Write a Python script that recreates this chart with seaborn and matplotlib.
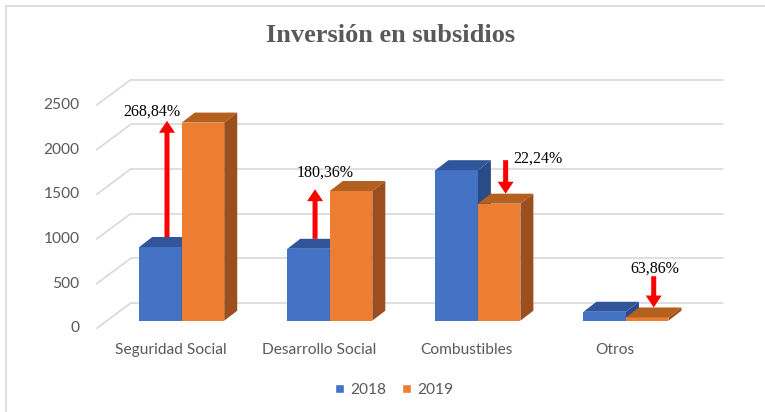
import matplotlib
matplotlib.use("Agg")
import numpy as np
import pandas as pd
import matplotlib.pyplot as plt
from matplotlib.patches import Polygon, Rectangle, FancyArrowPatch, ArrowStyle, Patch
import seaborn as sns

sns.set_style("white")
plt.rcParams['font.family'] = ['Lato', 'DejaVu Sans']

# datos
categorias = ["Seguridad Social", "Desarrollo Social", "Combustibles", "Otros"]
anios = ["2018", "2019"]
valores_2018 = [825, 805, 1685, 100]
valores_2019 = [2218, 1452, 1310, 36]
variaciones = ["268,84%", "180,36%", "22,24%", "63,86%"]
ticks_y = [0, 500, 1000, 1500, 2000, 2500]

AZUL = "#4472C4"
NARANJA = "#ED7D31"
CARAS = {AZUL: ("#30559B", "#2B4B87"), NARANJA: ("#B4601F", "#9C4F1E")}
GRIS = "#595959"
REJILLA = "#D9D9D9"

W, H = 765, 412
fig = plt.figure(figsize=(W / 100, H / 100), dpi=100)

# plano frontal de las barras (en pixeles)
x0, x1 = 107.7, 700.0
ytop, ybot = 97.4, 320.7
ax = fig.add_axes([x0 / W, 1 - ybot / H, (x1 - x0) / W, (ybot - ytop) / H])

px_x = (x1 - x0) / 4          # pixeles por categoria
px_y = (ybot - ytop) / 2500   # pixeles por unidad

# profundidades (pixeles -> datos)
bar_dx, bar_dy = 13 / px_x, 10 / px_y
back_dx, back_dy = 23 / px_x, 17.7 / px_y
front_dx, front_dy = 11 / px_x, 7.6 / px_y

df = pd.DataFrame({
    "categoria": categorias * 2,
    "anio": [anios[0]] * 4 + [anios[1]] * 4,
    "valor": valores_2018 + valores_2019,
})

sns.barplot(data=df, x="categoria", y="valor", hue="anio", palette=[AZUL, NARANJA],
            width=0.574, gap=0, saturation=1, legend=False, ax=ax)

# caras 3D de cada barra
for p in list(ax.patches):
    col = matplotlib.colors.to_hex(p.get_facecolor()).upper()
    base_z = 2.0 if col == AZUL else 2.2
    p.set_zorder(base_z)
    p.set_linewidth(0)
    bx, bw, bh = p.get_x(), p.get_width(), p.get_height()
    top_c, side_c = CARAS[col]
    top = Polygon([(bx, bh), (bx + bw, bh), (bx + bw + bar_dx, bh + bar_dy), (bx + bar_dx, bh + bar_dy)],
                  closed=True, facecolor=top_c, lw=0, zorder=base_z + 0.1, clip_on=False)
    side = Polygon([(bx + bw, 0), (bx + bw, bh), (bx + bw + bar_dx, bh + bar_dy), (bx + bw + bar_dx, bar_dy)],
                   closed=True, facecolor=side_c, lw=0, zorder=base_z + 0.1, clip_on=False)
    ax.add_patch(top)
    ax.add_patch(side)

# pared del fondo y pared izquierda
for v in ticks_y:
    ax.plot([-0.5 + back_dx, 3.5 + back_dx], [v + back_dy, v + back_dy],
            color=REJILLA, lw=1.2, clip_on=False, zorder=0)
    ax.plot([-0.5 - front_dx, -0.5 + back_dx], [v - front_dy, v + back_dy],
            color=REJILLA, lw=1.2, clip_on=False, zorder=0)
    ax.annotate(str(v), xy=(-0.5 - front_dx, v - front_dy), xytext=(-17, 0),
                textcoords="offset pixels", ha="right", va="center",
                fontsize=11.2, color=GRIS, annotation_clip=False)

for i, cat in enumerate(categorias):
    ax.annotate(cat, xy=(i - front_dx, -front_dy), xytext=(0, -22),
                textcoords="offset pixels", ha="center", va="center",
                fontsize=11.2, color=GRIS, annotation_clip=False)

ax.set_xlim(-0.5, 3.5)
ax.set_ylim(0, 2500)
ax.set_xticks([])
ax.set_yticks([])
ax.set_xlabel("")
ax.set_ylabel("")
for s in ax.spines.values():
    s.set_visible(False)
ax.patch.set_alpha(0)

# flechas de variacion
estilo = ArrowStyle("Simple", head_length=0.86, head_width=1.15, tail_width=0.36)
medio = 0.574 / 4
texto_pos = [
    dict(offset=(-15, 1), ha="center", va="bottom", ancla="fin"),
    dict(offset=(10, 9), ha="center", va="bottom", ancla="fin"),
    dict(offset=(8, 2), ha="left", va="center", ancla="inicio"),
    dict(offset=(1, 0), ha="center", va="bottom", ancla="inicio"),
]
for i, (v18, v19, txt) in enumerate(zip(valores_2018, valores_2019, variaciones)):
    if v19 > v18:
        xa = i - medio + bar_dx / 2
        inicio = (xa, v18 + bar_dy)
        fin = (xa, v19 + 20)
    else:
        xa = i + medio + bar_dx / 2
        inicio = (xa, max(v18 + bar_dy, v19 + bar_dy + 350))
        fin = (xa, v19 + bar_dy)
    flecha = FancyArrowPatch(inicio, fin, arrowstyle=estilo, mutation_scale=10,
                             color="red", lw=0, shrinkA=0, shrinkB=0,
                             clip_on=False, zorder=5)
    ax.add_patch(flecha)
    tp = texto_pos[i]
    ax.annotate(txt, xy=fin if tp["ancla"] == "fin" else inicio, xytext=tp["offset"],
                textcoords="offset pixels", ha=tp["ha"], va=tp["va"],
                family=["Liberation Serif", "DejaVu Serif"], fontsize=11.5, color="black",
                zorder=6, annotation_clip=False)

# titulo, leyenda y borde
fig.text(390.7 / W, 1 - 36 / H, "Inversión en subsidios", ha="center", va="center",
         family=["Liberation Serif", "DejaVu Serif"], weight="bold", fontsize=19, color=GRIS)

handles = [Patch(facecolor=AZUL, label=anios[0]), Patch(facecolor=NARANJA, label=anios[1])]
fig.legend(handles=handles, loc="center", bbox_to_anchor=(394 / W, 1 - 390 / H), ncol=2,
           frameon=False, handlelength=0.6, handleheight=0.6, handletextpad=0.4,
           columnspacing=1.0, fontsize=11.2, labelcolor=GRIS)

fig.add_artist(Rectangle((6.5 / W, -0.1), 1.2, 1.1 - 6.5 / H, transform=fig.transFigure,
                         fill=False, edgecolor=REJILLA, lw=1.2))

plt.savefig("out.png", dpi=100)
